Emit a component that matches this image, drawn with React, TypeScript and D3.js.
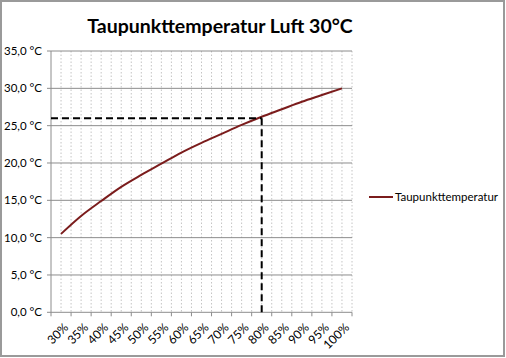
import React from "react";
import * as d3 from "d3";

const categories = ["30%", "35%", "40%", "45%", "50%", "55%", "60%", "65%", "70%", "75%", "80%", "85%", "90%", "95%", "100%"];
const dewPoint = [10.5, 12.9, 14.9, 16.8, 18.4, 19.9, 21.4, 22.7, 23.9, 25.1, 26.2, 27.2, 28.2, 29.1, 30.0];
const yTicks = [0, 5, 10, 15, 20, 25, 30, 35];
const markerCategory = "80%";
const markerValue = 26;
const seriesName = "Taupunkttemperatur";
const title = "Taupunkttemperatur Luft 30°C";

const W = 506, H = 358;
const plot = { left: 51, right: 352, top: 51, bottom: 312.3 };
const FONT = "Lato, 'Open Sans', sans-serif";

export default function App() {
  const x = d3.scaleBand<string>().domain(categories).range([plot.left, plot.right]);
  const y = d3.scaleLinear().domain([0, 35]).range([plot.bottom, plot.top]);
  const cx = (c: string) => (x(c) ?? 0) + x.bandwidth() / 2;
  const line = d3.line<number>().x((_, i) => cx(categories[i])).y((d) => y(d)).curve(d3.curveMonotoneX);

  const vLines: number[] = [];
  categories.forEach((c) => {
    vLines.push(x(c) ?? 0);
    vLines.push(cx(c));
  });
  vLines.push(plot.right);

  const fmt = (v: number) => v.toFixed(1).replace(".", ",") + " °C";

  return (
    <svg width={W} height={H} style={{ position: "absolute", left: 0, top: 0, background: "#fff" }} fontFamily={FONT}>
      <rect x={1} y={1} width={W - 3} height={H - 3} fill="#fff" stroke="#9a9a9a" strokeWidth={2} />
      <text x={220} y={33} textAnchor="middle" fontSize={19.5} fontWeight="bold" fill="#000">{title}</text>
      {vLines.slice(1).map((vx, i) => (
        <line key={"v" + i} x1={vx} x2={vx} y1={plot.top} y2={plot.bottom} stroke="#c4c4c4" strokeWidth={1} strokeDasharray="1.5,2" />
      ))}
      {yTicks.map((t) => (
        <g key={"y" + t}>
          <line x1={plot.left - 4} x2={plot.right} y1={y(t)} y2={y(t)} stroke="#8c8c8c" strokeWidth={1} />
          <text x={42} y={y(t)} dy="0.35em" textAnchor="end" fontSize={11.5} fill="#000">{fmt(t)}</text>
        </g>
      ))}
      <line x1={plot.left} x2={plot.left} y1={plot.top} y2={plot.bottom} stroke="#8c8c8c" strokeWidth={1} />
      {vLines.filter((_, i) => i % 2 === 0).map((vx, i) => (
        <line key={"t" + i} x1={vx} x2={vx} y1={plot.bottom} y2={plot.bottom + 4} stroke="#8c8c8c" strokeWidth={1} />
      ))}
      {categories.map((c) => (
        <text key={c} transform={`translate(${cx(c) + 5},${plot.bottom + 13}) rotate(-45)`} textAnchor="end" fontSize={12} fill="#000" dy="0.35em">{c}</text>
      ))}
      <path d={line(dewPoint) ?? ""} fill="none" stroke="#7b1c1c" strokeWidth={2} />
      <line x1={plot.left} x2={cx(markerCategory)} y1={y(markerValue)} y2={y(markerValue)} stroke="#000" strokeWidth={2} strokeDasharray="7,4" />
      <line x1={cx(markerCategory)} x2={cx(markerCategory)} y1={y(markerValue)} y2={plot.bottom} stroke="#000" strokeWidth={2} strokeDasharray="7,4" />
      <line x1={369} x2={393} y1={197} y2={197} stroke="#7b1c1c" strokeWidth={2} />
      <text x={395} y={197} dy="0.35em" fontSize={11.5} fill="#000">{seriesName}</text>
    </svg>
  );
}
